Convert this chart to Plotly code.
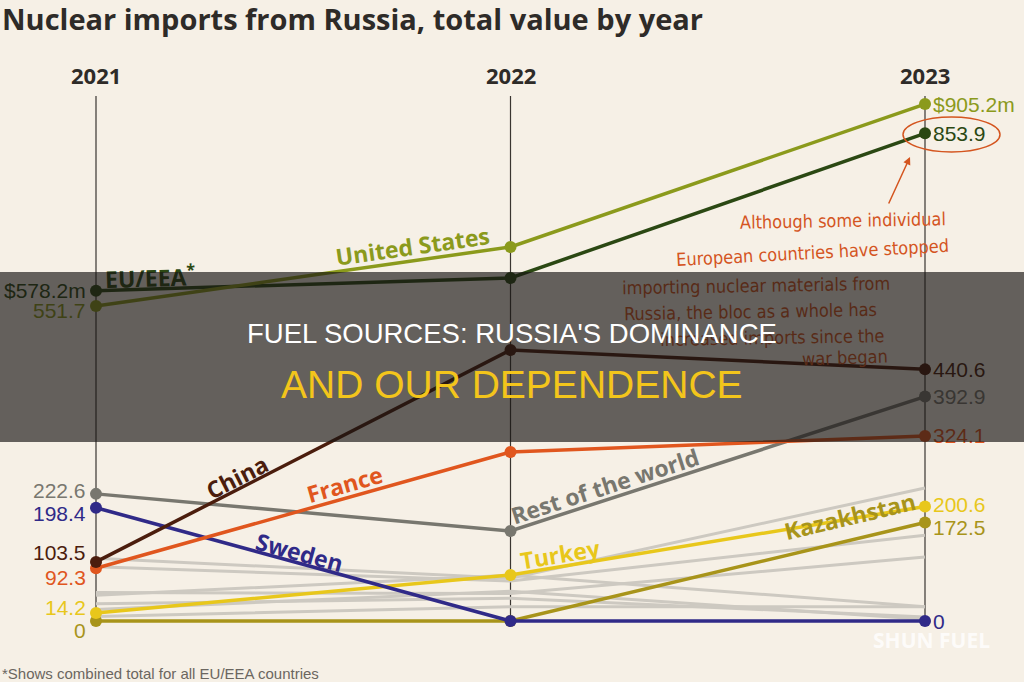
import math
import plotly.graph_objects as go

# ---------------- data ----------------
years = [2021, 2022, 2023]
united_states = [551.7, 655.0, 905.2]
eu_eea = [578.2, 600.6, 853.9]
china = [103.5, 474.5, 440.6]
france = [92.3, 296.0, 324.1]
rest_of_world = [222.6, 157.6, 392.9]
sweden = [198.4, 0.0, 0.0]
turkey = [14.2, 80.5, 200.6]
kazakhstan = [0.0, 0.0, 172.5]
other_countries = [
    [110, 75, 233],
    [95, 70, 150],
    [50, 48, 112],
    [45, 80, 25],
    [30, 40, 7],
    [20, 52, 3],
    [8, 25, 25],
]
left_labels = ["$578.2m", "551.7", "222.6", "198.4", "103.5", "92.3", "14.2", "0"]
right_labels = ["$905.2m", "853.9", "440.6", "392.9", "324.1", "200.6", "172.5", "0"]
year_labels = ["2021", "2022", "2023"]

# ---------------- styling ----------------
BG = "#f6f0e6"
C_US = "#8b9a1c"
C_EU = "#2b4813"
C_CHINA = "#4b1d0d"
C_FRANCE = "#e0561e"
C_REST = "#78776f"
C_SWEDEN = "#302a88"
C_TURKEY = "#e8c71b"
C_KAZ = "#a8941a"
C_GRAY = "#cdc9c1"
C_NOTE = "#d4551f"

# pixel geometry of the axes (x: years, y: values)
W, H = 1024, 682
X2021_PX, PX_PER_YEAR = 96, 414.5
ZERO_PX, PX_PER_UNIT = 621, 0.5711
X0 = 2021 - X2021_PX / PX_PER_YEAR
X1 = X0 + W / PX_PER_YEAR
Y0 = -(H - ZERO_PX) / PX_PER_UNIT
Y1 = Y0 + H / PX_PER_UNIT


def px(x):
    return (x - X0) * PX_PER_YEAR


def py(v):
    return H - (v - Y0) * PX_PER_UNIT


fig = go.Figure()

for vals in other_countries:
    fig.add_trace(go.Scatter(x=years, y=vals, mode="lines",
                             line=dict(color=C_GRAY, width=3), hoverinfo="skip"))

main = [
    (kazakhstan, C_KAZ),
    (turkey, C_TURKEY),
    (sweden, C_SWEDEN),
    (rest_of_world, C_REST),
    (france, C_FRANCE),
    (china, C_CHINA),
    (eu_eea, C_EU),
    (united_states, C_US),
]
for vals, col in main:
    fig.add_trace(go.Scatter(x=years, y=vals, mode="lines+markers",
                             line=dict(color=col, width=3.5),
                             marker=dict(color=col, size=12), hoverinfo="skip"))

annotations = []
shapes = []

# vertical year rules
for yr in years:
    shapes.append(dict(type="line", xref="x", yref="paper", x0=yr, x1=yr,
                       y0=1 - 622 / H, y1=1 - 96 / H, layer="below",
                       line=dict(color="#3a3531", width=1.2)))

# title
annotations.append(dict(xref="paper", yref="paper", x=0, y=1 - 19 / H,
                        xanchor="left", yanchor="middle", showarrow=False,
                        text="<b>Nuclear imports from Russia, total value by year</b>",
                        font=dict(family="Open Sans", size=29, color="#2e2b28")))
for yr, lab in zip(years, year_labels):
    annotations.append(dict(xref="x", yref="paper", x=yr, y=1 - 75 / H,
                            xanchor="center", yanchor="middle", showarrow=False,
                            text="<b>%s</b>" % lab,
                            font=dict(family="Open Sans", size=22, color="#2e2b28")))

# value labels
left_series = [(eu_eea, C_EU, 0), (united_states, C_US, -5), (rest_of_world, C_REST, 3),
               (sweden, C_SWEDEN, -6), (china, C_CHINA, 9), (france, C_FRANCE, -9),
               (turkey, C_TURKEY, 5), (kazakhstan, C_KAZ, -9)]
for (vals, col, ys), lab in zip(left_series, left_labels):
    annotations.append(dict(xref="x", yref="y", x=years[0], y=vals[0], xanchor="right",
                            yanchor="middle", xshift=-8, yshift=ys, showarrow=False,
                            text=lab, font=dict(family="Liberation Sans", size=21, color=col)))
right_series = [(united_states, C_US, 0), (eu_eea, C_EU, 0), (china, C_CHINA, 0),
                (rest_of_world, C_REST, 0), (france, C_FRANCE, 0), (turkey, C_TURKEY, 2),
                (kazakhstan, C_KAZ, -5), (sweden, C_SWEDEN, 0)]
for (vals, col, ys), lab in zip(right_series, right_labels):
    annotations.append(dict(xref="x", yref="y", x=years[2], y=vals[2], xanchor="left",
                            yanchor="middle", xshift=6, yshift=ys, showarrow=False,
                            text=lab, font=dict(family="Liberation Sans", size=21, color=col)))

# in-line series labels: (text, values, segment index, fraction, pixel offset above line, colour)
line_labels = [
    ("United States", united_states, 0, 0.764, 15, C_US),
    ("EU/EEA<sup>*</sup>", eu_eea, 0, 0.13, 12, C_EU),
    ("China", china, 0, 0.34, 13, C_CHINA),
    ("France", france, 0, 0.60, 14, C_FRANCE),
    ("Rest of the world", rest_of_world, 1, 0.227, 14, C_REST),
    ("Sweden", sweden, 0, 0.49, 11, C_SWEDEN),
    ("Turkey", turkey, 1, 0.12, 13, C_TURKEY),
    ("Kazakhstan", kazakhstan, 1, 0.82, 24, C_KAZ),
]
for text, vals, seg, t, off, col in line_labels:
    xa, xb = years[seg], years[seg + 1]
    va, vb = vals[seg], vals[seg + 1]
    ang = math.degrees(math.atan2(py(vb) - py(va), px(xb) - px(xa)))
    annotations.append(dict(xref="x", yref="y", x=xa + t * (xb - xa), y=va + t * (vb - va),
                            xanchor="center", yanchor="middle", yshift=off, showarrow=False,
                            textangle=ang, text="<b>%s</b>" % text,
                            font=dict(family="Open Sans", size=23, color=col)))

# handwritten note
note_lines = [
    ("Although some individual", 843, 221, -1),
    ("European countries have stopped", 812, 252, -3),
    ("importing nuclear materials from", 756, 285, -1),
    ("Russia, the bloc as a whole has", 750, 311, -1),
    ("increased imports since the", 772, 337, -1),
    ("war began", 845, 357, -2),
]
for text, xp, yp, ang in note_lines:
    annotations.append(dict(xref="paper", yref="paper", x=xp / W, y=1 - yp / H,
                            xanchor="center", yanchor="middle", showarrow=False,
                            textangle=ang, text=text,
                            font=dict(family="DejaVu Sans Condensed, DejaVu Sans", size=18,
                                      color=C_NOTE)))
annotations.append(dict(xref="paper", yref="paper", x=910 / W, y=1 - 157 / H,
                        ax=-22, ay=48, axref="pixel", ayref="pixel", showarrow=True,
                        arrowhead=2, arrowsize=1, arrowwidth=1.5, arrowcolor=C_NOTE, text=""))
shapes.append(dict(type="circle", xref="paper", yref="paper", x0=903 / W, x1=1000 / W,
                   y0=1 - 152 / H, y1=1 - 117 / H, layer="above",
                   line=dict(color=C_NOTE, width=1.5)))

# footnote and watermark
annotations.append(dict(xref="paper", yref="paper", x=0, y=1 - 673 / H, xanchor="left",
                        yanchor="middle", showarrow=False,
                        text="*Shows combined total for all EU/EEA countries",
                        font=dict(family="Liberation Sans", size=15, color="#6b6660")))
annotations.append(dict(xref="paper", yref="paper", x=931 / W, y=1 - 640 / H, xanchor="center",
                        yanchor="middle", showarrow=False, text="<b>SHUN FUEL</b>",
                        font=dict(family="Open Sans", size=21, color="rgba(255,255,255,0.8)")))

# overlay banner (drawn last, on top of everything)
annotations.append(dict(xref="paper", yref="paper", x=0, y=1 - 272 / H, xanchor="left",
                        yanchor="top", showarrow=False, text=" ", width=W, height=170,
                        borderpad=0, borderwidth=0, bgcolor="rgba(24,22,20,0.66)"))
annotations.append(dict(xref="paper", yref="paper", x=0.5, y=1 - 333 / H, xanchor="center",
                        yanchor="middle", showarrow=False,
                        text="FUEL SOURCES: RUSSIA'S DOMINANCE",
                        font=dict(family="Liberation Sans", size=27.5, color="#ffffff")))
annotations.append(dict(xref="paper", yref="paper", x=0.5, y=1 - 384 / H, xanchor="center",
                        yanchor="middle", showarrow=False, text="AND OUR DEPENDENCE",
                        font=dict(family="Liberation Sans", size=39, color="#f3c51b")))

fig.update_layout(
    width=W, height=H, margin=dict(l=0, r=0, t=0, b=0),
    paper_bgcolor=BG, plot_bgcolor=BG, showlegend=False,
    xaxis=dict(range=[X0, X1], visible=False, fixedrange=True),
    yaxis=dict(range=[Y0, Y1], visible=False, fixedrange=True),
    annotations=annotations, shapes=shapes,
)
fig.write_html("out.html", config={"displayModeBar": False})
